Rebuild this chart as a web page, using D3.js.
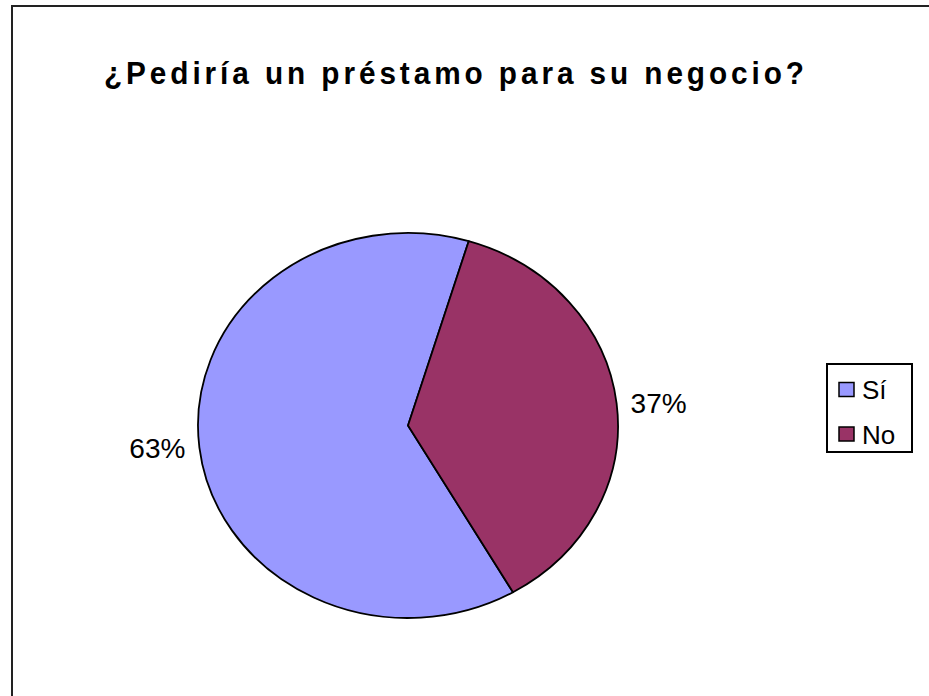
<!DOCTYPE html>
<html>
<head>
<meta charset="utf-8">
<script src="https://cdn.jsdelivr.net/npm/d3@7"></script>
<style>
  html, body { margin: 0; padding: 0; background: #fff; }
  svg { display: block; }
</style>
</head>
<body>
<div id="chart"></div>
<script>
const title = "¿Pediría un préstamo para su negocio?";
const categories = ["Sí", "No"];
const values = [63, 37];
const colors = ["#9999FF", "#993366"];

const W = 929, H = 696;
const svg = d3.select("#chart").append("svg").attr("width", W).attr("height", H);

svg.append("rect").attr("x", 0).attr("y", 0).attr("width", W).attr("height", H).attr("fill", "#fff");

// chart area border (extends past right / bottom edge)
svg.append("rect")
  .attr("x", 12).attr("y", 6)
  .attr("width", W + 20).attr("height", H + 20)
  .attr("fill", "none").attr("stroke", "#222").attr("stroke-width", 2);

// title (slightly condensed bold look)
const sx = 0.93;
svg.append("text")
  .attr("transform", `translate(104,84) scale(${sx},1)`)
  .attr("x", 0).attr("y", 0)
  .attr("textLength", 700 / sx).attr("lengthAdjust", "spacing")
  .attr("font-family", "Liberation Sans, Arial, sans-serif")
  .attr("font-weight", "bold")
  .attr("font-size", 32)
  .attr("fill", "#000")
  .text(title);

// pie (elliptical, as in the reference)
const cx = 408, cy = 425.5, rx = 210, ry = 192.5;
const data = categories.map((c, i) => ({ name: c, value: values[i], color: colors[i] }));
const startDeg = 150;
const pie = d3.pie().sort(null).value(d => d.value)
  .startAngle(startDeg * Math.PI / 180)
  .endAngle((startDeg + 360) * Math.PI / 180);
const arcs = pie(data);
const arc = d3.arc().innerRadius(0).outerRadius(ry);

const g = svg.append("g").attr("transform", `translate(${cx},${cy}) scale(${rx / ry},1)`);
g.selectAll("path").data(arcs).join("path")
  .attr("d", arc)
  .attr("fill", d => d.data.color)
  .attr("stroke", "#000")
  .attr("stroke-width", 1.8)
  .attr("stroke-linejoin", "round")
  .attr("vector-effect", "non-scaling-stroke");

// percentage labels outside slices
const total = d3.sum(values);
svg.selectAll("text.lbl").data(arcs).join("text")
  .attr("class", "lbl")
  .each(function(d) {
    const a = (d.startAngle + d.endAngle) / 2;
    const px = cx + rx * Math.sin(a);
    const py = cy - ry * Math.cos(a);
    const right = Math.sin(a) >= 0;
    d3.select(this)
      .attr("x", px + (right ? 14 : -14))
      .attr("y", py + 10)
      .attr("text-anchor", right ? "start" : "end");
  })
  .attr("font-family", "Liberation Sans, Arial, sans-serif")
  .attr("font-size", 28)
  .attr("fill", "#000")
  .text(d => Math.round(d.data.value / total * 100) + "%");

// legend
const lg = svg.append("g");
lg.append("rect")
  .attr("x", 827).attr("y", 364).attr("width", 85).attr("height", 88)
  .attr("fill", "#fff").attr("stroke", "#000").attr("stroke-width", 2);
const itemY = [389.5, 434];
const items = lg.selectAll("g.item").data(data).join("g").attr("class", "item")
  .attr("transform", (d, i) => `translate(0,${itemY[i]})`);
items.append("rect")
  .attr("x", 839).attr("y", -7).attr("width", 15).attr("height", 14)
  .attr("fill", d => d.color).attr("stroke", "#000").attr("stroke-width", 1.5);
items.append("text")
  .attr("x", 862).attr("y", 9.5)
  .attr("font-family", "Liberation Sans, Arial, sans-serif")
  .attr("font-size", 26)
  .attr("fill", "#000")
  .text(d => d.name);
</script>
</body>
</html>
